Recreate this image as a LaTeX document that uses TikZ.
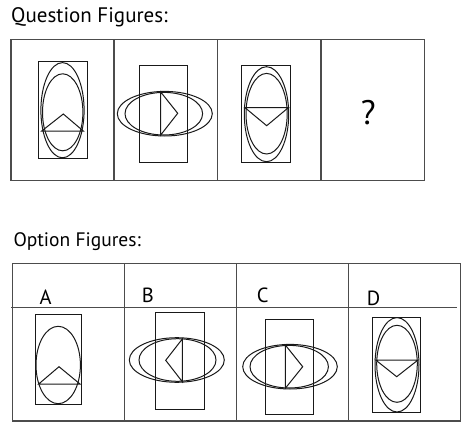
\documentclass[tikz,border=0pt]{standalone}
\usepackage{fontspec}
\setmainfont{PT Sans}
\begin{document}
\begin{tikzpicture}[x=1pt,y=-1pt,
  frame/.style={draw=black!70,line width=1.2pt},
  fig/.style={draw=black!90,line width=1pt},
  title/.style={anchor=base west,inner sep=0pt,font=\fontsize{21}{24}\selectfont},
  lbl/.style={anchor=base west,inner sep=0pt,font=\fontsize{20.5}{23}\selectfont}]
\useasboundingbox (0,0) rectangle (468,433);
% titles
\node[title] (qt) at (11,22.7) {Question Figures:};
\node[title,font=\fontsize{19.5}{22}\selectfont] (ot) at (13.3,246.7) {Option Figures:};
% question frame
\draw[frame] (11,39.3) rectangle (424.3,180.3);
\draw[frame] (114,39.3) -- (114,180.3);
\draw[frame] (217.7,39.3) -- (217.7,180.3);
\draw[frame] (321,39.3) -- (321,180.3);
% Q1
\draw[fig] (38.7,62) rectangle (87.3,158);
\draw[fig] (62.5,110.2) ellipse [x radius=21.6pt,y radius=47.6pt];
\draw[fig] (62.7,112.3) ellipse [x radius=20.2pt,y radius=38.5pt];
\draw[fig] (41.7,131) -- (63.3,114) -- (83.3,131) -- cycle;
% Q2
\draw[fig] (139.7,66) rectangle (187.7,162.3);
\draw[fig] (164.8,113.7) ellipse [x radius=47.5pt,y radius=22.3pt];
\draw[fig] (163.8,113.7) ellipse [x radius=38.8pt,y radius=21.3pt];
\draw[fig] (160.7,92) -- (177.7,113.3) -- (160.7,135) -- cycle;
% Q3
\draw[fig] (241.7,66) rectangle (290,162.3);
\draw[fig] (266.5,114.2) ellipse [x radius=22.2pt,y radius=47.5pt];
\draw[fig] (266.6,113.7) ellipse [x radius=20.6pt,y radius=40.3pt];
\draw[fig] (245,107.7) -- (266.7,125.7) -- (288.3,107.7) -- cycle;
% Q4
\node[inner sep=0pt,font=\fontsize{34}{36}\selectfont] (qm) at (368.3,113) {?};
% option frame
\draw[frame] (12.7,263.3) rectangle (460.7,421);
\draw[frame] (124.7,263.3) -- (124.7,421);
\draw[frame] (236.7,263.3) -- (236.7,421);
\draw[frame] (348.3,263.3) -- (348.3,421);
\draw[frame] (11,307.7) -- (457.3,307.7);
% labels
\node[lbl] (la) at (39.3,304.3) {A};
\node[lbl] (lb) at (141.7,302.3) {B};
\node[lbl] (lc) at (256.7,302.7) {C};
\node[lbl] (ld) at (366.7,305) {D};
% A
\draw[fig] (35.3,314.7) rectangle (81.3,404.7);
\draw[fig] (58.2,365) ellipse [x radius=22.2pt,y radius=38.7pt];
\draw[fig] (38.7,384) -- (59,366.7) -- (80,384) -- cycle;
% B
\draw[fig] (155.7,312.3) rectangle (204,409);
\draw[fig] (176.8,360) ellipse [x radius=47.5pt,y radius=22.3pt];
\draw[fig] (177.5,360) ellipse [x radius=38.5pt,y radius=21.3pt];
\draw[fig] (182.3,339) -- (165.7,360.3) -- (182.3,381.7) -- cycle;
% C
\draw[fig] (265,319) rectangle (313,414.3);
\draw[fig] (290,366.7) ellipse [x radius=47.3pt,y radius=22.3pt];
\draw[fig] (289.2,366.7) ellipse [x radius=39.2pt,y radius=21.3pt];
\draw[fig] (285.3,345) -- (302.7,366.7) -- (285.3,388.3) -- cycle;
% D
\draw[fig] (372.3,317) rectangle (420.3,412.7);
\draw[fig] (397,364.8) ellipse [x radius=22pt,y radius=47.2pt];
\draw[fig] (397,363.8) ellipse [x radius=20.3pt,y radius=38.5pt];
\draw[fig] (375.7,360) -- (396.7,376.7) -- (418,360) -- cycle;
\end{tikzpicture}
\end{document}
